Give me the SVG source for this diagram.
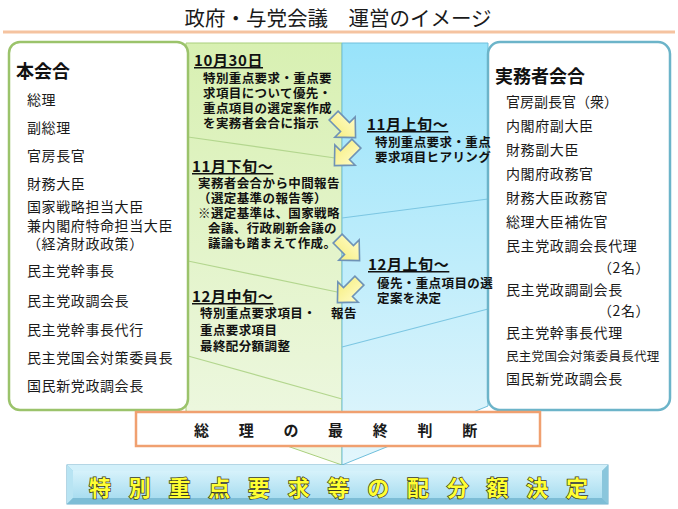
<svg xmlns="http://www.w3.org/2000/svg" width="678" height="509" viewBox="0 0 678 509">
<style>
text{font-family:"Noto Sans CJK JP","Noto Sans CJK SC",sans-serif;fill:#1a1a1a}
.item{font-size:14px;letter-spacing:0.6px}
.head{font-size:18px;font-weight:bold;fill:#111}
.date{font-size:15px;font-weight:bold;text-decoration:underline;letter-spacing:0.6px;fill:#111}
.b{font-size:12.5px;font-weight:bold;letter-spacing:0.4px;fill:#111}
.arrow{fill:url(#arrowGrad);stroke:#6f93b6;stroke-width:1.4;stroke-linejoin:miter}
.result{font-size:22px;font-weight:bold;fill:#ffff33;stroke:#3a3a20;stroke-width:1.4px;paint-order:stroke}
</style>
<defs>
<linearGradient id="greenGrad" x1="0" y1="43" x2="0" y2="465" gradientUnits="userSpaceOnUse">
<stop offset="0" stop-color="#d8f0b2"/><stop offset="1" stop-color="#eff8e4"/>
</linearGradient>
<linearGradient id="blueGrad" x1="0" y1="43" x2="0" y2="465" gradientUnits="userSpaceOnUse">
<stop offset="0" stop-color="#98e3fa"/><stop offset="1" stop-color="#e3f6fc"/>
</linearGradient>
<linearGradient id="arrowGrad" x1="0" y1="0" x2="0" y2="1">
<stop offset="0" stop-color="#fffcc8"/><stop offset="1" stop-color="#f6ee80"/>
</linearGradient>
<linearGradient id="barGrad" x1="0" y1="0" x2="0" y2="1">
<stop offset="0" stop-color="#d6f2fb"/><stop offset="1" stop-color="#a9ddf0"/>
</linearGradient>
<path id="arr" d="M-14,-5.5 L0,-5.5 L0,-12.5 L13,0 L0,12.5 L0,5.5 L-14,5.5 Z"/>
</defs>

<rect width="678" height="509" fill="#ffffff"/>

<g id="title">
<text x="338" y="26" font-size="20.5" text-anchor="middle">政府・与党会議　運営のイメージ</text>
<line x1="3" y1="32" x2="675" y2="32" stroke="#f5c3a0" stroke-width="3"/>
</g>

<g id="flow-columns">
<polygon points="186,43 342,43 342,465 186,411" fill="url(#greenGrad)" stroke="#a9cf7c" stroke-width="1"/>
<polygon points="342,43 488,43 488,406 342,465" fill="url(#blueGrad)" stroke="#6fbfdc" stroke-width="1"/>
<line x1="188" y1="137" x2="342" y2="159" stroke="#b3d68e" stroke-width="1.2"/>
<line x1="188" y1="261" x2="342" y2="293" stroke="#b3d68e" stroke-width="1.2"/>
<line x1="188" y1="356" x2="342" y2="399" stroke="#b3d68e" stroke-width="1.2"/>
<line x1="342" y1="218" x2="488" y2="199" stroke="#7cc6e2" stroke-width="1.2"/>
<line x1="342" y1="347" x2="488" y2="309" stroke="#7cc6e2" stroke-width="1.2"/>
</g>

<g id="node-honkaigo">
<rect x="9" y="42" width="179" height="368" rx="11" fill="#ffffff" stroke="#9bc36b" stroke-width="2.5"/>
<text class="head" x="16" y="78">本会合</text>
<text class="item" x="27" y="105">総理</text>
<text class="item" x="27" y="133">副総理</text>
<text class="item" x="27" y="161">官房長官</text>
<text class="item" x="27" y="189">財務大臣</text>
<text class="item" x="27" y="212">国家戦略担当大臣</text>
<text class="item" x="27" y="231">兼内閣府特命担当大臣</text>
<text class="item" x="27" y="249">（経済財政政策）</text>
<text class="item" x="27" y="276">民主党幹事長</text>
<text class="item" x="27" y="306">民主党政調会長</text>
<text class="item" x="27" y="335">民主党幹事長代行</text>
<text class="item" x="27" y="363">民主党国会対策委員長</text>
<text class="item" x="27" y="391">国民新党政調会長</text>
</g>

<g id="node-jitsumusha">
<rect x="488" y="42" width="182" height="368" rx="12" fill="#ffffff" stroke="#6cb4c9" stroke-width="2.5"/>
<text class="head" x="495" y="83">実務者会合</text>
<text class="item" x="506" y="107" style="letter-spacing:0">官房副長官（衆）</text>
<text class="item" x="506" y="131">内閣府副大臣</text>
<text class="item" x="506" y="155">財務副大臣</text>
<text class="item" x="506" y="179">内閣府政務官</text>
<text class="item" x="506" y="203">財務大臣政務官</text>
<text class="item" x="506" y="227">総理大臣補佐官</text>
<text class="item" x="506" y="251">民主党政調会長代理</text>
<text class="item" x="598" y="273">（2名）</text>
<text class="item" x="506" y="295">民主党政調副会長</text>
<text class="item" x="598" y="316">（2名）</text>
<text class="item" x="506" y="338">民主党幹事長代理</text>
<text x="506" y="361" font-size="12.5" letter-spacing="0.3">民主党国会対策委員長代理</text>
<text class="item" x="506" y="384">国民新党政調会長</text>
</g>

<g id="step-oct30">
<text class="date" x="194" y="66">10月30日</text>
<text class="b" x="203" y="83">特別重点要求・重点要</text>
<text class="b" x="203" y="98">求項目について優先・</text>
<text class="b" x="203" y="113">重点項目の選定案作成</text>
<text class="b" x="203" y="128">を実務者会合に指示</text>
</g>

<g id="step-nov-early">
<text class="date" x="367" y="130">11月上旬～</text>
<text class="b" x="375" y="147">特別重点要求・重点</text>
<text class="b" x="375" y="162">要求項目ヒアリング</text>
</g>

<g id="step-nov-late">
<text class="date" x="192" y="172">11月下旬～</text>
<text class="b" x="198" y="188">実務者会合から中間報告</text>
<text class="b" x="198" y="203">（選定基準の報告等）</text>
<text class="b" x="198" y="218">※選定基準は、国家戦略</text>
<text class="b" x="208" y="233">会議、行政刷新会議の</text>
<text class="b" x="208" y="248">議論も踏まえて作成。</text>
</g>

<g id="step-dec-early">
<text class="date" x="368" y="270">12月上旬～</text>
<text class="b" x="377" y="288">優先・重点項目の選</text>
<text class="b" x="377" y="303">定案を決定</text>
</g>

<g id="step-dec-mid">
<text class="date" x="192" y="302">12月中旬～</text>
<text class="b" x="200" y="318">特別重点要求項目・</text>
<text class="b" x="200" y="335">重点要求項目</text>
<text class="b" x="200" y="351">最終配分額調整</text>
<text class="b" x="331" y="318">報告</text>
</g>

<g id="connectors">
<use href="#arr" class="arrow" transform="translate(345,127) rotate(45) scale(1.15)"/>
<use href="#arr" class="arrow" transform="translate(345,155) rotate(135) scale(1.15)"/>
<use href="#arr" class="arrow" transform="translate(349,250) rotate(45) scale(1.15)"/>
<use href="#arr" class="arrow" transform="translate(348,292) rotate(135) scale(1.15)"/>
</g>

<g id="node-judgement">
<rect x="136" y="412" width="404" height="34" fill="#ffffff" stroke="#f0a070" stroke-width="2.5"/>
<text x="201.5 246.2 290.9 335.6 380.3 425 469.7" y="436" font-size="15" font-weight="bold" text-anchor="middle">総理の最終判断</text>
</g>

<g id="node-result">
<rect x="67" y="465" width="541" height="39" fill="#8fcde3" stroke="#6aaecb" stroke-width="1"/>
<polygon points="67,465 608,465 602,471 73,471" fill="#d2f0fa"/>
<polygon points="67,465 73,471 73,498 67,504" fill="#b8e4f3"/>
<polygon points="67,504 73,498 602,498 608,504" fill="#7dbdd6"/>
<polygon points="608,465 608,504 602,498 602,471" fill="#8ac6dc"/>
<rect x="73" y="471" width="529" height="27" fill="url(#barGrad)"/>
<text class="result" x="100 139.75 179.5 219.25 259 298.75 338.5 378.25 418 457.75 497.5 537.25 577" y="496" text-anchor="middle">特別重点要求等の配分額決定</text>
</g>
</svg>
